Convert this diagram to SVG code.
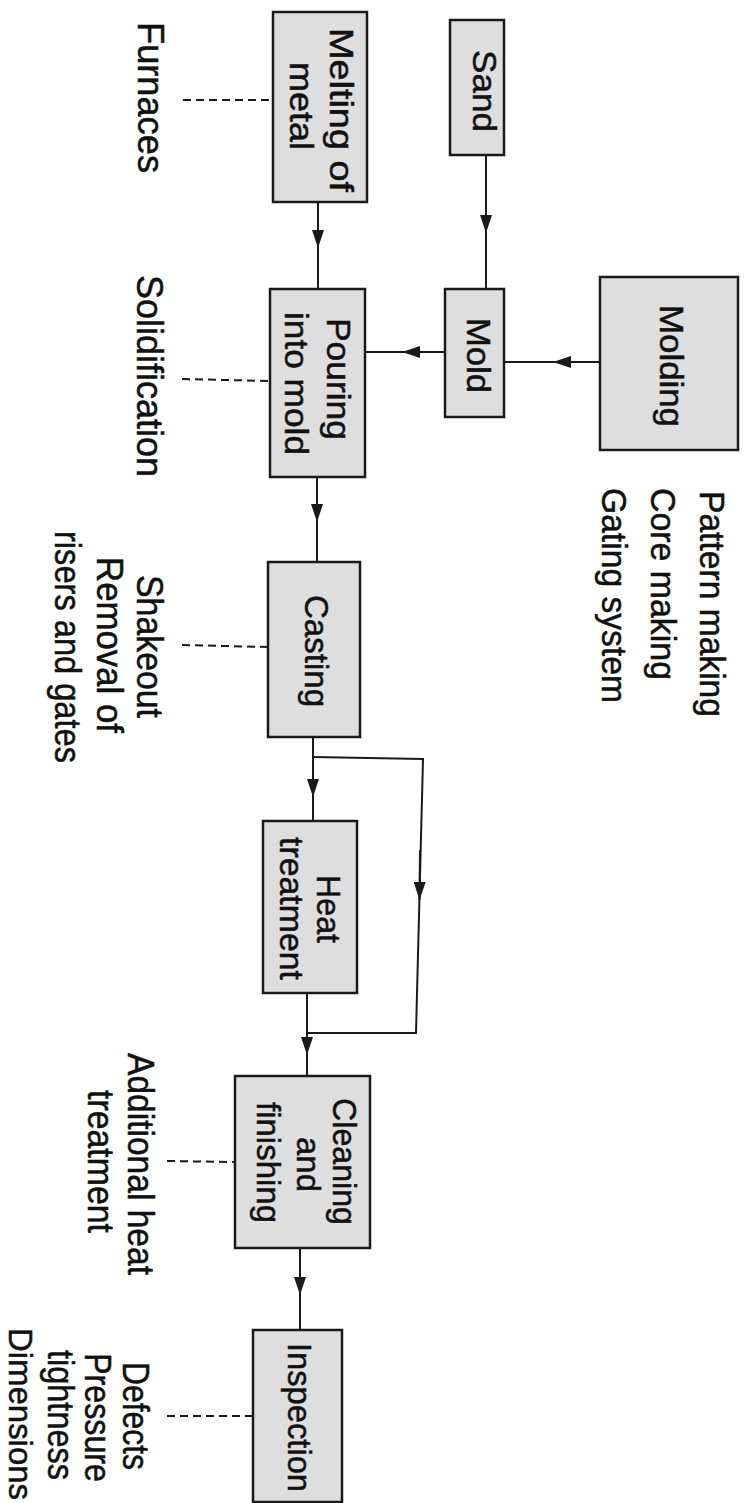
<svg xmlns="http://www.w3.org/2000/svg" width="747" height="1503" viewBox="0 0 747 1503">
<style>
.box{fill:#dedede;stroke:#1a1a1a;stroke-width:2.5}
.t{font-family:"Liberation Sans",Arial,sans-serif;fill:#111;stroke:#111;stroke-width:0.5}
.in{font-size:33px}
.out{font-size:36px}
.rt{font-size:35px}
.ln{stroke:#1a1a1a;stroke-width:2;fill:none}
.dash{stroke:#1a1a1a;stroke-width:2;stroke-dasharray:8 5;fill:none}
</style>
<defs>
<marker id="ah" markerUnits="userSpaceOnUse" markerWidth="18" markerHeight="12" refX="18" refY="6" orient="auto">
<path d="M0,0 L18,6 L0,12 z" fill="#1a1a1a"/>
</marker>
</defs>
<rect width="747" height="1503" fill="#ffffff"/>

<g id="connectors">
<line class="ln" x1="486" y1="155" x2="486" y2="233" marker-end="url(#ah)"/>
<line class="ln" x1="486" y1="233" x2="486" y2="289"/>
<line class="ln" x1="318" y1="202" x2="318" y2="248" marker-end="url(#ah)"/>
<line class="ln" x1="318" y1="248" x2="318" y2="289"/>
<line class="ln" x1="600" y1="362" x2="553" y2="362" marker-end="url(#ah)"/>
<line class="ln" x1="553" y1="362" x2="504" y2="362"/>
<line class="ln" x1="445" y1="352" x2="402" y2="352" marker-end="url(#ah)"/>
<line class="ln" x1="402" y1="352" x2="365" y2="352"/>
<line class="ln" x1="317" y1="477" x2="317" y2="522" marker-end="url(#ah)"/>
<line class="ln" x1="317" y1="522" x2="317" y2="562"/>
<line class="ln" x1="313" y1="737" x2="313" y2="797" marker-end="url(#ah)"/>
<line class="ln" x1="313" y1="797" x2="313" y2="821"/>
<polyline class="ln" points="313,757 423,759 416,1033 307,1033"/>
<line class="ln" x1="420" y1="850" x2="419.5" y2="900" marker-end="url(#ah)"/>
<line class="ln" x1="307" y1="993" x2="307" y2="1055" marker-end="url(#ah)"/>
<line class="ln" x1="307" y1="1055" x2="307" y2="1076"/>
<line class="ln" x1="300" y1="1248" x2="300" y2="1295" marker-end="url(#ah)"/>
<line class="ln" x1="300" y1="1295" x2="300" y2="1330"/>
<line class="dash" x1="183" y1="100" x2="273" y2="100"/>
<line class="dash" x1="182" y1="379" x2="270" y2="381"/>
<line class="dash" x1="182" y1="645" x2="268" y2="647"/>
<line class="dash" x1="167" y1="1161" x2="235" y2="1162"/>
<line class="dash" x1="167" y1="1416" x2="253" y2="1416"/>
</g>

<g id="sand">
<rect class="box" x="450" y="20" width="54" height="135"/>
<text class="t in" transform="translate(473,50) rotate(90)" textLength="82" lengthAdjust="spacingAndGlyphs">Sand</text>
</g>
<g id="melting">
<rect class="box" x="273" y="12" width="94" height="190"/>
<text class="t in" transform="translate(330,28) rotate(90)" textLength="164" lengthAdjust="spacingAndGlyphs">Melting of</text>
<text class="t in" transform="translate(290,62) rotate(90)" textLength="88" lengthAdjust="spacingAndGlyphs">metal</text>
</g>
<g id="molding">
<rect class="box" x="600" y="277" width="138" height="173"/>
<text class="t in" transform="translate(660,305) rotate(90)" textLength="122" lengthAdjust="spacingAndGlyphs">Molding</text>
</g>
<g id="mold">
<rect class="box" x="445" y="289" width="59" height="128"/>
<text class="t in" transform="translate(467,318) rotate(90)" textLength="75" lengthAdjust="spacingAndGlyphs">Mold</text>
</g>
<g id="pouring">
<rect class="box" x="270" y="289" width="95" height="188"/>
<text class="t in" transform="translate(327,318) rotate(90)" textLength="122" lengthAdjust="spacingAndGlyphs">Pouring</text>
<text class="t in" transform="translate(285,312) rotate(90)" textLength="143" lengthAdjust="spacingAndGlyphs">into mold</text>
</g>
<g id="casting">
<rect class="box" x="268" y="562" width="92" height="175"/>
<text class="t in" transform="translate(305,595) rotate(90)" textLength="112" lengthAdjust="spacingAndGlyphs">Casting</text>
</g>
<g id="heat">
<rect class="box" x="263" y="821" width="94" height="172"/>
<text class="t in" transform="translate(317,875) rotate(90)" textLength="68" lengthAdjust="spacingAndGlyphs">Heat</text>
<text class="t in" transform="translate(280,837) rotate(90)" textLength="143" lengthAdjust="spacingAndGlyphs">treatment</text>
</g>
<g id="cleaning">
<rect class="box" x="235" y="1076" width="135" height="172"/>
<text class="t in" transform="translate(333,1098) rotate(90)" textLength="127" lengthAdjust="spacingAndGlyphs">Cleaning</text>
<text class="t in" transform="translate(297,1137) rotate(90)" textLength="55" lengthAdjust="spacingAndGlyphs">and</text>
<text class="t in" transform="translate(257,1102) rotate(90)" textLength="121" lengthAdjust="spacingAndGlyphs">finishing</text>
</g>
<g id="inspection">
<rect class="box" x="253" y="1330" width="89" height="172"/>
<text class="t in" transform="translate(288,1343) rotate(90)" textLength="149" lengthAdjust="spacingAndGlyphs">Inspection</text>
</g>

<g id="label-molding">
<text class="t rt" transform="translate(700,491) rotate(90)" textLength="226" lengthAdjust="spacingAndGlyphs">Pattern making</text>
<text class="t rt" transform="translate(651,488) rotate(90)" textLength="192" lengthAdjust="spacingAndGlyphs">Core making</text>
<text class="t rt" transform="translate(602,488) rotate(90)" textLength="215" lengthAdjust="spacingAndGlyphs">Gating system</text>
</g>
<g id="label-furnaces">
<text class="t out" transform="translate(138,22) rotate(90)" textLength="151" lengthAdjust="spacingAndGlyphs">Furnaces</text>
</g>
<g id="label-solidification">
<text class="t out" transform="translate(137,275) rotate(90)" textLength="202" lengthAdjust="spacingAndGlyphs">Solidification</text>
</g>
<g id="label-shakeout">
<text class="t out" transform="translate(137,575) rotate(90)" textLength="143" lengthAdjust="spacingAndGlyphs">Shakeout</text>
<text class="t out" transform="translate(97,557) rotate(90)" textLength="176" lengthAdjust="spacingAndGlyphs">Removal of</text>
<text class="t out" transform="translate(55,531) rotate(90)" textLength="232" lengthAdjust="spacingAndGlyphs">risers and gates</text>
</g>
<g id="label-cleaning">
<text class="t out" transform="translate(128,1053) rotate(90)" textLength="222" lengthAdjust="spacingAndGlyphs">Additional heat</text>
<text class="t out" transform="translate(88,1090) rotate(90)" textLength="143" lengthAdjust="spacingAndGlyphs">treatment</text>
</g>
<g id="label-inspection">
<text class="t out" transform="translate(123,1362) rotate(90)" textLength="108" lengthAdjust="spacingAndGlyphs">Defects</text>
<text class="t out" transform="translate(85,1353) rotate(90)" textLength="129" lengthAdjust="spacingAndGlyphs">Pressure</text>
<text class="t out" transform="translate(48,1350) rotate(90)" textLength="130" lengthAdjust="spacingAndGlyphs">tightness</text>
<text class="t" style="font-size:33px" transform="translate(9,1328) rotate(90)" textLength="172" lengthAdjust="spacingAndGlyphs">Dimensions</text>
</g>
</svg>
